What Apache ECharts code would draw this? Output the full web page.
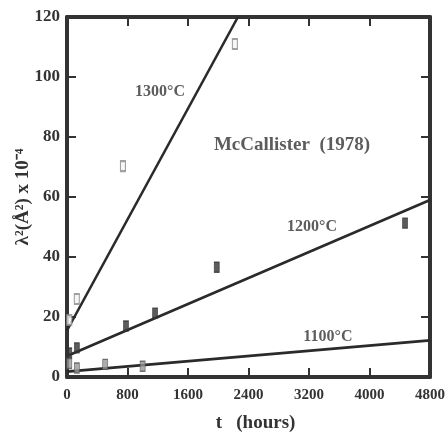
<!DOCTYPE html>
<html>
<head>
<meta charset="utf-8">
<script src="https://cdn.jsdelivr.net/npm/echarts@6/dist/echarts.min.js"></script>
<style>html,body{margin:0;padding:0;background:#fff}#c{width:447px;height:433px}</style>
</head>
<body>
<div id="c"></div>
<script>
var xTicks = [0, 800, 1600, 2400, 3200, 4000, 4800];
var yTicks = [0, 20, 40, 60, 80, 100, 120];

var fit1300 = [[0, 15.5], [2260, 120]];
var fit1200 = [[0, 7], [4800, 59]];
var fit1100 = [[0, 1.8], [4800, 12.2]];

var pts1300 = [[30, 19], [130, 26], [740, 70.3], [2220, 111]];
var pts1200 = [[30, 8], [130, 9.7], [780, 17], [1165, 21.3], [1980, 36.6], [4470, 51.3]];
var pts1100 = [[30, 4.5], [130, 3], [505, 4.2], [1000, 3.6]];

var notes = [[1230, 95, '1300°C'], [2975, 77.3, 'McCallister  (1978)'], [3240, 50, '1200°C'], [3450, 13.3, '1100°C']];
var noteSizes = [16, 19, 16, 16];

var font = 'Liberation Serif';
var ink = '#333';

function lineSeries(d) {
  return {type: 'line', data: d, symbol: 'none', lineStyle: {color: '#2a2a2a', width: 2.6}, clip: true, z: 3, silent: true};
}
function ptSeries(d, fill, border, bw) {
  return {type: 'scatter', data: d, symbol: 'rect', symbolSize: [5, 10],
    itemStyle: {color: fill, borderColor: border, borderWidth: bw}, z: 4, clip: false};
}

var chart = echarts.init(document.getElementById('c'));
function ax(extra) {
  return Object.assign({
    type: 'value', min: 0, nameMoveOverlap: false,
    axisLine: {show: true, onZero: false, lineStyle: {color: ink, width: 4}},
    axisTick: {show: true, inside: true, length: 9, lineStyle: {color: ink, width: 2}},
    splitLine: {show: false}
  }, extra);
}
chart.setOption({
  animation: false,
  grid: {left: 67, right: 17, top: 17, bottom: 56, containLabel: false, outerBoundsMode: 'none'},
  xAxis: [
    ax({max: 4800, interval: 800, position: 'bottom',
      axisLabel: {color: ink, fontFamily: font, fontWeight: 'bold', fontSize: 15, margin: 11,
        formatter: function (v) { return xTicks.indexOf(v) >= 0 ? String(v) : ''; }},
      name: 't   (hours)', nameLocation: 'middle', nameGap: 37,
      nameTextStyle: {color: ink, fontFamily: font, fontWeight: 'bold', fontSize: 19, padding: [0, 0, 0, 14]}}),
    ax({max: 4800, interval: 800, position: 'top', axisLabel: {show: false}})
  ],
  yAxis: [
    ax({max: 120, interval: 20, position: 'left',
      axisLabel: {color: ink, fontFamily: font, fontWeight: 'bold', fontSize: 17, margin: 7,
        formatter: function (v) { return yTicks.indexOf(v) >= 0 ? String(v) : ''; }},
      name: 'λ²(Å²) x 10⁻⁴', nameLocation: 'middle', nameGap: 34, nameRotate: 90,
      nameTextStyle: {color: ink, fontFamily: font, fontWeight: 'bold', fontSize: 19}}),
    ax({max: 120, interval: 20, position: 'right', axisLabel: {show: false}})
  ],
  series: [
    lineSeries(fit1300), lineSeries(fit1200), lineSeries(fit1100),
    ptSeries(pts1300, '#f4f4f4', '#8a8a8a', 1.5),
    ptSeries(pts1200, '#333', '#333', 1),
    ptSeries(pts1100, '#999', '#555', 1),
    {type: 'scatter', symbolSize: 0, z: 5, silent: true,
      data: notes.map(function (n, i) {
        return {value: [n[0], n[1]], label: {show: true, position: 'inside', formatter: n[2],
          color: ink, fontFamily: font, fontWeight: 'bold', fontSize: noteSizes[i]}};
      })}
  ]
});
</script>
</body>
</html>
